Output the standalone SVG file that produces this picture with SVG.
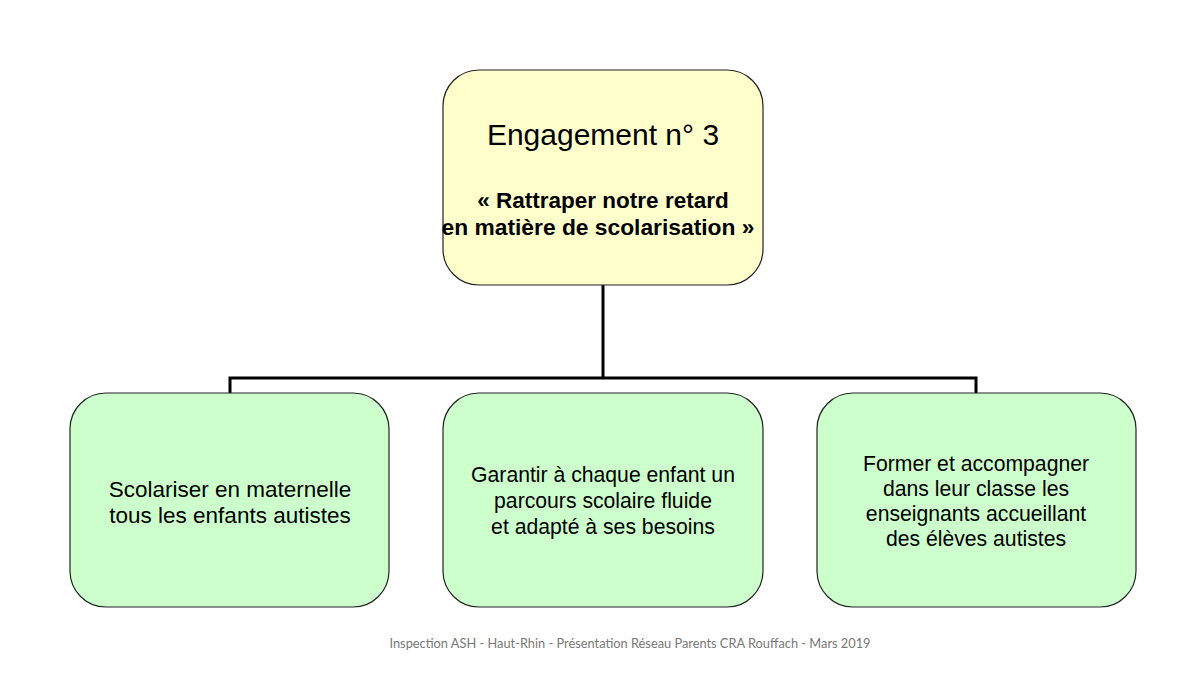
<svg xmlns="http://www.w3.org/2000/svg" width="1200" height="674" viewBox="0 0 1200 674">
<style>
.box{stroke:#222;stroke-width:1.2}
.top{fill:#ffffcc}
.sub{fill:#ccffcc}
.t{font-family:"Liberation Sans",Arial,sans-serif;fill:#000;text-anchor:middle}
.n{font-size:21.2px}
.c{fill:none;stroke:#000;stroke-width:3}
.f{font-family:Lato,"Open Sans",sans-serif;font-size:12.8px;fill:#777;text-anchor:middle}
</style>
<rect width="1200" height="674" fill="#fff"/>
<g id="connectors">
<path class="c" d="M603 285V378M230 393V378H976V393"/>
</g>
<g id="top">
<rect class="box top" x="443" y="70" width="320" height="215" rx="36"/>
<text class="t" x="603" y="145" font-size="30">Engagement n° 3</text>
<text class="t" x="603" y="208" font-size="22.5" font-weight="bold">« Rattraper notre retard</text>
<text class="t" x="598" y="235" font-size="22.8" font-weight="bold">en matière de scolarisation »</text>
</g>
<g id="n1">
<rect class="box sub" x="70" y="393" width="319" height="214" rx="36"/>
<text class="t" x="230" y="497" font-size="22.5">Scolariser en maternelle</text>
<text class="t" x="230" y="523" font-size="22.5">tous les enfants autistes</text>
</g>
<g id="n2">
<rect class="box sub" x="443" y="393" width="320" height="214" rx="36"/>
<text class="t n" x="603" y="482">Garantir à chaque enfant un</text>
<text class="t n" x="603" y="508">parcours scolaire fluide</text>
<text class="t n" x="603" y="534">et adapté à ses besoins</text>
</g>
<g id="n3">
<rect class="box sub" x="817" y="393" width="319" height="214" rx="36"/>
<text class="t n" x="976" y="471">Former et accompagner</text>
<text class="t n" x="976" y="496">dans leur classe les</text>
<text class="t n" x="976" y="521">enseignants accueillant</text>
<text class="t n" x="976" y="546">des élèves autistes</text>
</g>
<text class="f" x="630" y="648">Inspection ASH - Haut-Rhin - Présentation Réseau Parents CRA Rouffach - Mars 2019</text>
</svg>
